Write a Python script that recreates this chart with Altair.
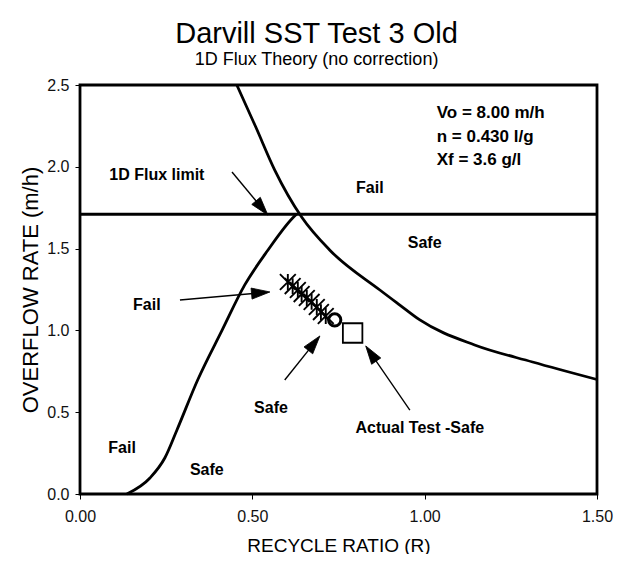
import math
import altair as alt
import pandas as pd

# ---------------- data ----------------
# descending limit curve (upper right)
upper_R = [0.455, 0.510, 0.565, 0.643, 0.725, 0.870, 0.928, 0.986, 1.145, 1.313, 1.500]
upper_Q = [2.500, 2.243, 1.980, 1.693, 1.490, 1.247, 1.155, 1.064, 0.911, 0.807, 0.700]

# rising curve (lower left)
lower_R = [0.136, 0.203, 0.246, 0.281, 0.342, 0.412, 0.478, 0.545, 0.617, 0.628]
lower_Q = [0.000, 0.098, 0.220, 0.390, 0.700, 1.000, 1.278, 1.490, 1.687, 1.710]

# 1D flux limit (horizontal)
limit_R = [0.0, 1.5]
limit_Q = [1.71, 1.71]

# operating points (asterisks), circle and actual test (square)
star_R = [0.603, 0.617, 0.632, 0.643, 0.658, 0.672, 0.687, 0.699, 0.713]
star_Q = [1.296, 1.271, 1.247, 1.222, 1.198, 1.174, 1.143, 1.112, 1.088]
circle_R = [0.739]
circle_Q = [1.064]
square_R = [0.791]
square_Q = [0.984]

# text labels
label_text = ["1D Flux limit", "Fail", "Safe", "Fail", "Safe", "Actual Test -Safe", "Fail", "Safe"]
label_R = [0.223, 0.841, 1.000, 0.194, 0.554, 0.986, 0.122, 0.368]
label_Q = [1.950, 1.870, 1.534, 1.155, 0.526, 0.403, 0.281, 0.147]

param_text = ["Vo = 8.00 m/h", "n = 0.430 l/g", "Xf = 3.6 g/l"]
param_R = [1.035, 1.035, 1.035]
param_Q = [2.329, 2.182, 2.042]

# arrows: tail -> head
arrow_R1 = [0.441, 0.290, 0.594, 0.957]
arrow_Q1 = [1.968, 1.186, 0.697, 0.513]
arrow_R2 = [0.545, 0.551, 0.696, 0.829]
arrow_Q2 = [1.705, 1.235, 0.966, 0.905]

x_ticks = [0.0, 0.5, 1.0, 1.5]
y_ticks = [0.0, 0.5, 1.0, 1.5, 2.0, 2.5]

# ---------------- layout ----------------
W, H = 517, 409
XMAX, YMAX = 1.5, 2.5
FONT = "Liberation Sans"
kx, ky = W / XMAX, H / YMAX

xs = alt.Scale(domain=[0, XMAX], nice=False, zero=False)
ys = alt.Scale(domain=[0, YMAX], nice=False, zero=False)

X = alt.X("R:Q", scale=xs, axis=alt.Axis(values=x_ticks, format=".2f", title="RECYCLE RATIO (R)", labelFlush=False))
Y = alt.Y("Q:Q", scale=ys, axis=alt.Axis(values=y_ticks, format=".1f", title="OVERFLOW RATE (m/h)", labelFlush=False))


def curve(rs, qs, interp):
    df = pd.DataFrame({"R": rs, "Q": qs, "i": list(range(len(rs)))})
    return alt.Chart(df).mark_line(color="black", strokeWidth=2.8, interpolate=interp).encode(
        x=X, y=Y, order="i:Q"
    )


upper = curve(upper_R, upper_Q, "monotone")
lower = curve(lower_R, lower_Q, "monotone")
limit = curve(limit_R, limit_Q, "linear")

stars = alt.Chart(pd.DataFrame({"R": star_R, "Q": star_Q})).mark_point(
    shape="M-1,-1L1,1M-1,1L1,-1M0,-1L0,1", filled=False, color="black", strokeWidth=1.9,
    size=250, opacity=1
).encode(x="R:Q", y="Q:Q")

circ = alt.Chart(pd.DataFrame({"R": circle_R, "Q": circle_Q})).mark_point(
    shape="circle", filled=False, color="black", strokeWidth=3, size=150, opacity=1
).encode(x="R:Q", y="Q:Q")

sq = alt.Chart(pd.DataFrame({"R": square_R, "Q": square_Q})).mark_point(
    shape="square", filled=False, color="black", strokeWidth=1.8, size=380, opacity=1
).encode(x="R:Q", y="Q:Q")

# arrows
HEAD_SIZE = 340
r_head = math.sqrt(HEAD_SIZE) / 2
rows = []
for r1, q1, r2, q2 in zip(arrow_R1, arrow_Q1, arrow_R2, arrow_Q2):
    dx = (r2 - r1) * kx
    dy = -(q2 - q1) * ky
    L = math.hypot(dx, dy)
    ux, uy = dx / L, dy / L
    ang = math.degrees(math.atan2(dx, -dy)) % 360
    hr = r2 - ux * r_head / kx
    hq = q2 + uy * r_head / ky
    rows.append({"R": r1, "Q": q1, "R2": r2 - ux * 12 / kx, "Q2": q2 + uy * 12 / ky,
                 "HR": hr, "HQ": hq, "ang": ang})
arrows = pd.DataFrame(rows)

shafts = alt.Chart(arrows).mark_rule(color="black", strokeWidth=1.4).encode(
    x="R:Q", y="Q:Q", x2="R2:Q", y2="Q2:Q"
)
heads = alt.Chart(arrows).mark_point(
    shape="M0,-1L0.6,1L-0.6,1Z", fill="black", stroke="black", strokeWidth=0.8,
    fillOpacity=1, opacity=1, filled=True, size=HEAD_SIZE
).encode(x="HR:Q", y="HQ:Q", angle=alt.Angle("ang:Q", scale=None))

labels = alt.Chart(pd.DataFrame({"t": label_text, "R": label_R, "Q": label_Q})).mark_text(
    font=FONT, fontSize=16, fontWeight="bold", color="black", align="center", baseline="middle"
).encode(x="R:Q", y="Q:Q", text="t:N")

params = alt.Chart(pd.DataFrame({"t": param_text, "R": param_R, "Q": param_Q})).mark_text(
    font=FONT, fontSize=17, fontWeight="bold", color="black", align="left", baseline="middle"
).encode(x="R:Q", y="Q:Q", text="t:N")

chart = alt.layer(upper, lower, limit, stars, circ, sq, shafts, heads, labels, params).properties(
    width=W,
    height=H,
    padding={"left": 72, "top": 77, "right": 17, "bottom": 60},
    autosize=alt.AutoSizeParams(type="none"),
    title=alt.TitleParams(
        text="Darvill SST Test 3 Old",
        subtitle="1D Flux Theory (no correction)",
        font=FONT, fontSize=29, fontWeight="normal", color="black",
        subtitleFont=FONT, subtitleFontSize=18, subtitleColor="black",
        subtitlePadding=2, anchor="middle", offset=8, dx=-22,
    ),
).configure_view(stroke="black", strokeWidth=2.8).configure_axis(
    domain=False, grid=False, ticks=True, tickColor="black", tickSize=5, tickWidth=1,
    labelFont=FONT, labelFontSize=16, labelColor="#111", labelPadding=6,
    titleFont=FONT, titleFontSize=19, titleFontWeight="normal", titleColor="black",
).configure_axisX(labelPadding=9, titlePadding=12).configure_axisY(titlePadding=4, titleFontSize=22)

chart.save("out.html", embed_options={"renderer": "svg", "actions": False})
